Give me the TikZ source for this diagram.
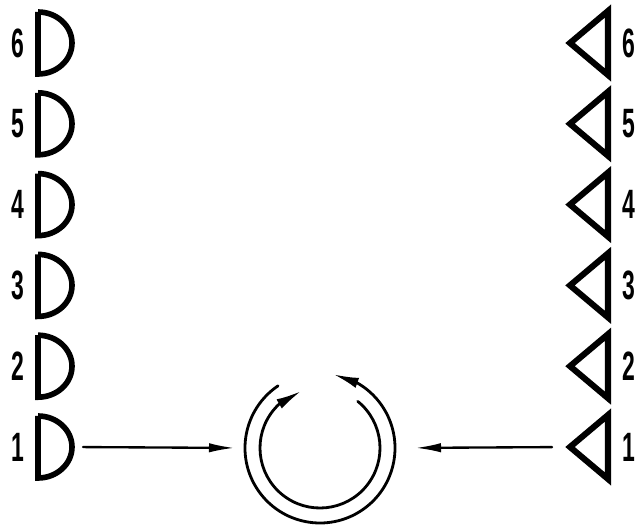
\documentclass[tikz,border=0pt]{standalone}
\usepackage{fontspec}
\newfontfamily\digitfont{Liberation Sans}
\usetikzlibrary{arrows.meta,bending}
\tikzset{
  rd diagram/.style={x=0.03cm, y=0.03cm, line cap=round, line join=round},
  rd frame dee/.style={inner sep=0pt, outer sep=0pt, minimum width=1.02cm, minimum height=1.86cm},
  rd frame tri/.style={inner sep=0pt, outer sep=0pt, minimum width=1.14cm, minimum height=1.92cm},
  rd symbol/.style={draw=black, line width=4.8pt, line join=miter, line cap=butt},
  rd num/.style={font=\digitfont\bfseries\fontsize{35}{35}\selectfont, xscale=0.56, inner sep=0pt},
  rd feed/.style={-{Latex[length=22pt,width=8pt]}, line width=2pt},
  rd ring/.style={line width=2.4pt, -{Latex[length=22pt,width=9pt,flex]}}
}
\begin{document}
\begin{tikzpicture}[rd diagram]
\useasboundingbox (0,0) rectangle (637,525);
% receivers on the left, emitters on the right
\foreach \i in {1,...,6}{
  \pgfmathsetmacro{\rowy}{78+80.8*(\i-1)}
  \node[rd frame dee] (dee\i) at (55,\rowy) {};
  \draw[rd symbol] (dee\i.north west) -- (dee\i.south west)
    arc[start angle=-90, end angle=90, x radius=34, y radius=31] -- cycle;
  \node[rd num] (ldig\i) at (18,\rowy) {\i};
  \node[rd frame tri] (tri\i) at (589,\rowy) {};
  \draw[rd symbol, line width=5.2pt] (tri\i.north east) -- (tri\i.west) -- (tri\i.south east) -- cycle;
  \node[rd num] (rdig\i) at (629,\rowy) {\i};
}
% the ring
\node[circle, inner sep=0pt, minimum size=4.5cm] (ring) at (320,77) {};
\draw[rd ring] ([shift={(124:75)}]ring.center) arc[start angle=124, end angle=440, radius=75];
\draw[rd ring] ([shift={(51:60)}]ring.center) arc[start angle=51, end angle=-252, radius=60];
% feeds into the ring
\draw[rd feed, shorten <=0.33cm, shorten >=0.3cm] (dee1.east) -- (ring.west);
\draw[rd feed, shorten <=0.54cm, shorten >=0.6cm] (tri1.west) -- (ring.east);
\end{tikzpicture}
\end{document}
